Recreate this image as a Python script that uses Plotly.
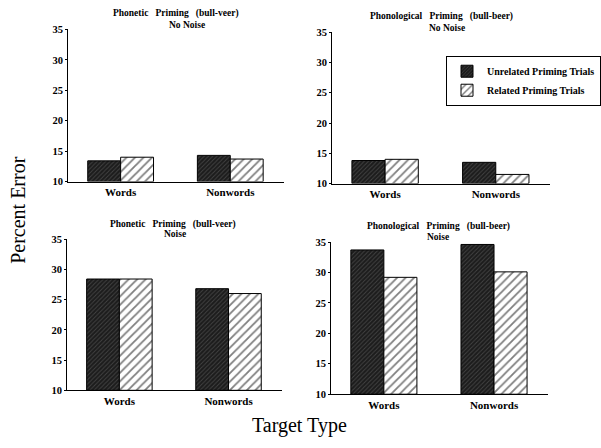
import plotly.graph_objects as go

categories = ["Words", "Nonwords"]
series_names = ["Unrelated Priming Trials", "Related Priming Trials"]

# panel values: [unrelated, related] for [Words, Nonwords]
phonetic_nonoise_unrel = [13.4, 14.3]
phonetic_nonoise_rel = [14.0, 13.7]
phonol_nonoise_unrel = [13.8, 13.5]
phonol_nonoise_rel = [14.0, 11.5]
phonetic_noise_unrel = [28.4, 26.8]
phonetic_noise_rel = [28.4, 26.0]
phonol_noise_unrel = [33.7, 34.6]
phonol_noise_rel = [29.2, 30.1]

title_line1 = [
    "Phonetic   Priming   (bull-veer)",
    "Phonological   Priming   (bull-beer)",
    "Phonetic   Priming   (bull-veer)",
    "Phonological   Priming   (bull-beer)",
]
title_line2 = ["No Noise", "No Noise", "Noise", "Noise"]
y_ticks = [10, 15, 20, 25, 30, 35]

W, H = 601, 448
SERIF = "Liberation Serif"

def fx(px):
    return px / W

def fy(px):
    return 1 - px / H

# (x-domain px), (y-domain px), title line1 (x,y), title line2 (x,y)
panels = [
    (phonetic_nonoise_unrel, phonetic_nonoise_rel, (68, 284), (25, 181), (176, 9), (187, 20)),
    (phonol_nonoise_unrel, phonol_nonoise_rel, (332, 550), (28, 183), (441, 12), (447, 24)),
    (phonetic_noise_unrel, phonetic_noise_rel, (67, 282), (240, 395), (173, 225), (175, 235)),
    (phonol_noise_unrel, phonol_noise_rel, (331, 548), (243, 399), (438, 227), (438, 238)),
]

fig = go.Figure()
annotations = []
for i, (unrel, rel, (x0, x1), (y0, y1), t1, t2) in enumerate(panels):
    n = "" if i == 0 else str(i + 1)
    xa, ya = "x" + n, "y" + n
    fig.add_trace(go.Bar(
        x=categories, y=[v - 10 for v in unrel], base=10,
        name=series_names[0], xaxis=xa, yaxis=ya,
        showlegend=(i == 1), legendgroup="u",
        marker=dict(color="#1c1c1c", line=dict(color="black", width=1),
                    pattern=dict(shape="/", fgcolor="#6a6a6a", bgcolor="#1c1c1c", size=3, solidity=0.3)),
    ))
    fig.add_trace(go.Bar(
        x=categories, y=[v - 10 for v in rel], base=10,
        name=series_names[1], xaxis=xa, yaxis=ya,
        showlegend=(i == 1), legendgroup="r",
        marker=dict(color="white", line=dict(color="black", width=1),
                    pattern=dict(shape="/", fgcolor="black", bgcolor="white", size=6, solidity=0.3)),
    ))
    axkey = "xaxis" + n
    aykey = "yaxis" + n
    fig.layout[axkey] = dict(
        domain=[fx(x0), fx(x1)], range=[-0.48, 1.49], anchor=ya,
        showline=True, linecolor="black", linewidth=1.2, ticks="", showgrid=False,
        tickfont=dict(family=SERIF, size=11, color="black", weight="bold"),
        zeroline=False,
    )
    fig.layout[aykey] = dict(
        domain=[fy(y1), fy(y0)], range=[10, 35], anchor=xa,
        tickvals=y_ticks, showline=True, linecolor="black", linewidth=1,
        ticks="outside", ticklen=2, tickcolor="black", showgrid=False, zeroline=False,
        tickfont=dict(family=SERIF, size=10.5, color="black", weight="bold"),
    )
    for txt, (tx, ty) in ((title_line1[i], t1), (title_line2[i], t2)):
        annotations.append(dict(
            x=fx(tx), y=fy(ty), xref="paper", yref="paper", xanchor="center", yanchor="middle",
            text=txt, showarrow=False,
            font=dict(family=SERIF, size=9.5, color="black", weight="bold"),
        ))

annotations.append(dict(
    x=fx(18), y=fy(210), xref="paper", yref="paper", text="Percent Error", textangle=-90,
    showarrow=False, xanchor="center", yanchor="middle",
    font=dict(family=SERIF, size=20, color="black"),
))
annotations.append(dict(
    x=fx(299), y=fy(431), xref="paper", yref="paper", text="Target Type",
    showarrow=False, xanchor="center", yanchor="middle",
    font=dict(family=SERIF, size=20, color="black"),
))

fig.update_layout(
    width=W, height=H, margin=dict(l=0, r=0, t=0, b=0),
    paper_bgcolor="white", plot_bgcolor="white",
    barmode="group", bargap=0.4, bargroupgap=0,
    annotations=annotations,
    legend=dict(x=fx(446), y=fy(52), xanchor="left", yanchor="top",
                bordercolor="black", borderwidth=1, bgcolor="white",
                font=dict(family=SERIF, size=10, color="black", weight="bold"),
                tracegroupgap=0, itemwidth=30),
)

fig.write_html("out.html", config={"displayModeBar": False},
               post_script="document.body.style.margin='0';document.body.style.padding='0';document.body.style.overflow='hidden';")
